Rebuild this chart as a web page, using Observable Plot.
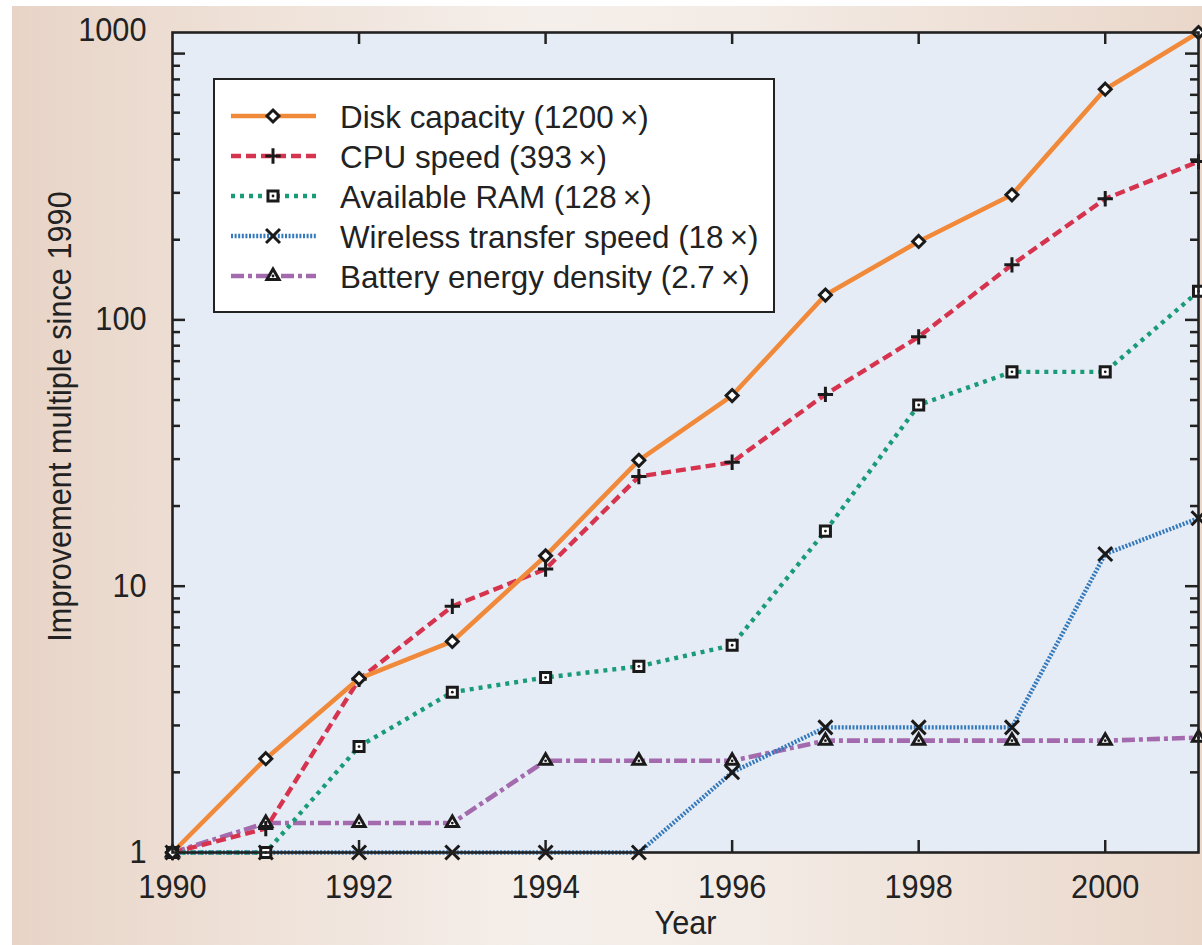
<!DOCTYPE html>
<html>
<head>
<meta charset="utf-8">
<script src="https://cdn.jsdelivr.net/npm/d3@7"></script>
<script src="https://cdn.jsdelivr.net/npm/@observablehq/plot@0.6"></script>
<style>
html, body { margin: 0; padding: 0; background: #ffffff; }
#wrap { position: relative; width: 1202px; height: 945px; overflow: hidden; }
#bg { position: absolute; left: 12px; top: 6px; right: 0; bottom: 0;
  background: linear-gradient(90deg, #e8d4c7 0%, #eee0d6 18%, #f5efeb 45%, #f3ebe5 62%, #ead7ca 100%); }
#chart { position: absolute; left: 0; top: 0; }
#legend { position: absolute; left: 213px; top: 78px; width: 558px; height: 231px;
  border: 2px solid #222; background: #ffffff; overflow: visible; }
#legend svg { overflow: visible; }
</style>
</head>
<body>
<div id="wrap"><div id="bg"></div><div id="chart"></div><div id="legend"></div></div>
<script>
const FONT = '"Liberation Sans", Arial, Helvetica, sans-serif';

// ---- data ----
const years = [1990, 1991, 1992, 1993, 1994, 1995, 1996, 1997, 1998, 1999, 2000, 2001];
const diskCapacity = [1, 2.25, 4.5, 6.2, 13.0, 29.7, 52, 124, 197, 295, 735, 1200];
const cpuSpeed = [1, 1.23, 4.47, 8.4, 11.6, 25.8, 29.2, 52.5, 86.4, 161, 285, 393];
const availableRam = [1, 1, 2.5, 4.0, 4.54, 5.0, 6.0, 16.1, 47.9, 63.8, 63.8, 128];
const wirelessSpeed = [1, 1, 1, 1, 1, 1, 2.0, 2.95, 2.95, 2.95, 13.2, 18];
const batteryDensity = [1, 1.29, 1.29, 1.29, 2.21, 2.21, 2.21, 2.63, 2.63, 2.63, 2.63, 2.7];

const seriesNames = ["Disk capacity", "CPU speed", "Available RAM", "Wireless transfer speed", "Battery energy density"];
const legendLabels = ["Disk capacity (1200\u2009\u00d7)", "CPU speed (393\u2009\u00d7)", "Available RAM (128\u2009\u00d7)",
  "Wireless transfer speed (18\u2009\u00d7)", "Battery energy density (2.7\u2009\u00d7)"];
const seriesValues = [diskCapacity, cpuSpeed, availableRam, wirelessSpeed, batteryDensity];

const xTickValues = [1990, 1992, 1994, 1996, 1998, 2000];
const yTickValues = [1, 10, 100];
const yTopTickValue = [1000];
const yMinorTicks = [2, 3, 4, 5, 6, 7, 8, 9, 20, 30, 40, 50, 60, 70, 80, 90, 200, 300, 400, 500, 600, 700, 800, 900];
const yMajorTicks = [10, 100, 1000];
const xTitle = "Year";
const yTitle = "Improvement multiple since 1990";

// ---- styles ----
const styles = [
  { color: "#f08a3a", dash: null, width: 4.6, symbol: "diamond2", r: 5.4, fill: "#ffffff", dot: false },
  { color: "#d6344e", dash: "10,5", width: 4.4, symbol: "plus", r: 5.0, fill: "none", dot: false },
  { color: "#1a9b77", dash: "4,5", width: 4.4, symbol: "square2", r: 6.4, fill: "#ffffff", dot: true },
  { color: "#3479bb", dash: "2,1.6", width: 4.4, symbol: "times", r: 6.4, fill: "none", dot: false },
  { color: "#a46aae", dash: "13,4,4,4", width: 4.6, symbol: "triangle2", r: 5.8, fill: "#ffffff", dot: true }
];

const W = 1202, H = 945, mL = 172, mR = 4, mT = 32, mB = 93;
const pw = W - mL - mR, ph = H - mT - mB;

const rows = seriesNames.map((name, i) => years.map((year, j) => ({ name, year, value: seriesValues[i][j] })));

const lineMarks = [];
for (let i = rows.length - 1; i >= 0; i--) {
  const s = styles[i];
  lineMarks.push(Plot.line(rows[i], { x: "year", y: "value", stroke: s.color, strokeWidth: s.width,
    strokeDasharray: s.dash, strokeLinecap: "butt", strokeLinejoin: "round" }));
}
const dotMarks = [];
for (let i = rows.length - 1; i >= 0; i--) {
  const s = styles[i];
  dotMarks.push(Plot.dot(rows[i], { x: "year", y: "value", symbol: () => s.symbol, r: s.r,
    fill: s.fill, stroke: "#1a1a1a", strokeWidth: 3 }));
  if (s.dot) dotMarks.push(Plot.dot(rows[i], { x: "year", y: "value", r: 1.4, fill: "#1a1a1a", stroke: "none" }));
}

const tickStyle = { stroke: "#222", strokeWidth: 2.5 };
const chart = Plot.plot({
  width: W, height: H,
  marginLeft: mL, marginRight: mR, marginTop: mT, marginBottom: mB,
  x: { domain: [1990, 2001] },
  y: { type: "log", domain: [1, 1200] },
  style: { fontFamily: FONT, fontSize: "33px", color: "#222", background: "transparent", overflow: "visible" },
  marks: [
    Plot.frame({ fill: "#e6ecf5" }),
    ...lineMarks,
    Plot.ruleX(xTickValues.slice(1), { insetTop: ph - 12, ...tickStyle }),
    Plot.ruleX(xTickValues.slice(1), { insetBottom: ph - 12, ...tickStyle }),
    Plot.ruleY(yMajorTicks, { insetRight: pw - 13, ...tickStyle }),
    Plot.ruleY(yMinorTicks, { insetRight: pw - 8, ...tickStyle }),
    Plot.ruleY(yMajorTicks, { insetLeft: pw - 13, ...tickStyle }),
    Plot.ruleY(yMinorTicks, { insetLeft: pw - 8, ...tickStyle }),
    ...dotMarks,
    Plot.frame({ stroke: "#222", strokeWidth: 2.6 }),
    Plot.axisX(xTickValues, { tickSize: 0, tickPadding: 22, tickFormat: d => String(d), label: null, fontSize: 33 }),
    Plot.axisY(yTickValues, { tickSize: 0, tickPadding: 26, tickFormat: d => String(d), label: null, fontSize: 33 }),
    Plot.axisY(yTopTickValue, { tickSize: 0, tickPadding: 26, dy: -23, tickFormat: d => String(d), label: null, fontSize: 33 }),
    Plot.text([xTitle], { frameAnchor: "bottom", dy: 81, fontSize: 33, fill: "#222", textAnchor: "middle" }),
    Plot.text([yTitle], { frameAnchor: "left", textAnchor: "middle", rotate: -90, dx: -112, dy: -26, fontSize: 33, fill: "#222" })
  ]
});
document.getElementById("chart").appendChild(chart);

// ---- legend ----
const lg = d3.select("#legend").append("svg").attr("width", 558).attr("height", 231)
  .style("font-family", FONT).style("font-size", "32px");
const symMap = { diamond2: d3.symbolDiamond2, plus: d3.symbolPlus, square2: d3.symbolSquare2, times: d3.symbolTimes, triangle2: d3.symbolTriangle2 };
legendLabels.forEach((lab, i) => {
  const s = styles[i];
  const cy = 36 + i * 40;
  const g = lg.append("g").attr("transform", `translate(0,${cy})`);
  g.append("line").attr("x1", 16).attr("x2", 101).attr("y1", 0).attr("y2", 0)
    .attr("stroke", s.color).attr("stroke-width", s.width).attr("stroke-dasharray", s.dash).attr("stroke-linecap", "butt");
  g.append("path").attr("transform", "translate(58,0)")
    .attr("d", d3.symbol(symMap[s.symbol], Math.PI * s.r * s.r)())
    .attr("fill", s.fill).attr("stroke", "#1a1a1a").attr("stroke-width", 3);
  if (s.dot) g.append("circle").attr("cx", 58).attr("cy", 0).attr("r", 1.4).attr("fill", "#1a1a1a");
  g.append("text").attr("x", 125).attr("y", 0).attr("dy", "0.36em").attr("fill", "#222").text(lab);
});

// condensed look: compress glyph widths
function condense(root, factor) {
  root.querySelectorAll("text").forEach(t => {
    const len = t.getComputedTextLength();
    if (len > 0) {
      t.setAttribute("textLength", (len * factor).toFixed(1));
      t.setAttribute("lengthAdjust", "spacingAndGlyphs");
    }
  });
}
condense(chart, 0.93);
condense(document.querySelector("#legend svg"), 0.98);
</script>
</body>
</html>
